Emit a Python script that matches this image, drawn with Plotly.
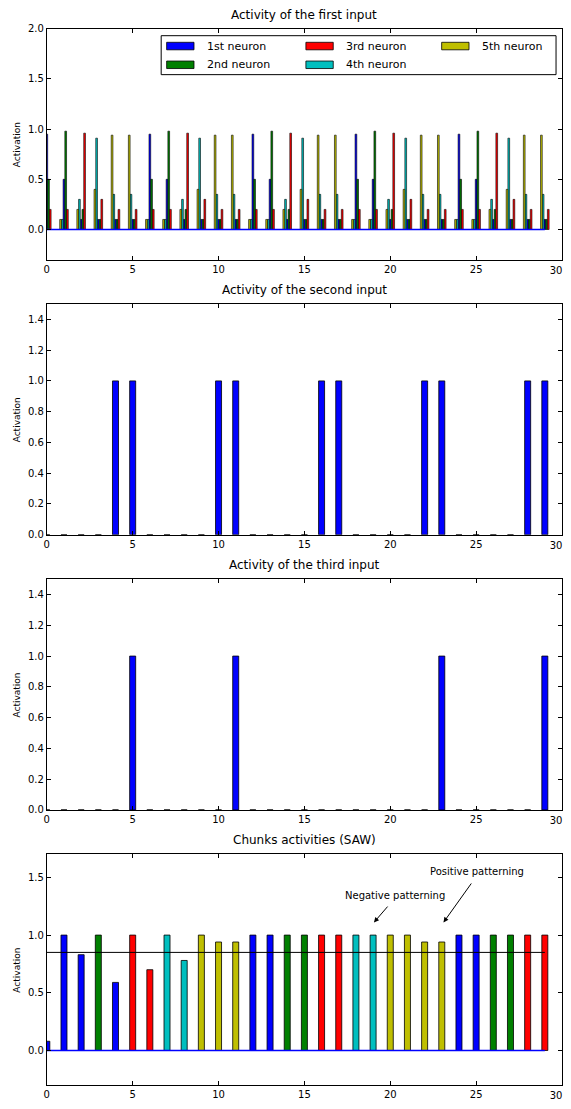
import plotly.graph_objects as go

W, H = 571, 1109
PAD = 8  # default page body margin around the figure
FW, FH = W - 2 * PAD, H - 2 * PAD

# ---------------- data ----------------
steps = list(range(30))

# Panel 1: activity of the five neurons for the first input
first_n1 = [0.95, 0.5, 0.1, 0.1, 0.1, 0.1, 0.95, 0.5, 0.1, 0.1, 0.1, 0.1,
            0.95, 0.5, 0.1, 0.1, 0.1, 0.1, 0.95, 0.5, 0.1, 0.1, 0.1, 0.1,
            0.95, 0.5, 0.1, 0.1, 0.1, 0.1]
first_n2 = [0.5, 0.98, 0.2, 0.1, 0.1, 0.1, 0.5, 0.98, 0.2, 0.1, 0.1, 0.1,
            0.5, 0.98, 0.2, 0.1, 0.1, 0.1, 0.5, 0.98, 0.2, 0.1, 0.1, 0.1,
            0.5, 0.98, 0.2, 0.1, 0.1, 0.1]
first_n3 = [0.2, 0.2, 0.96, 0.3, 0.2, 0.2, 0.2, 0.2, 0.96, 0.3, 0.2, 0.2,
            0.2, 0.2, 0.96, 0.3, 0.2, 0.2, 0.2, 0.2, 0.96, 0.3, 0.2, 0.2,
            0.2, 0.2, 0.96, 0.3, 0.2, 0.2]
first_n4 = [0.1, 0.1, 0.3, 0.91, 0.35, 0.35, 0.1, 0.1, 0.3, 0.91, 0.35, 0.35,
            0.1, 0.1, 0.3, 0.91, 0.35, 0.35, 0.1, 0.1, 0.3, 0.91, 0.35, 0.35,
            0.1, 0.1, 0.3, 0.91, 0.35, 0.35]
first_n5 = [0.1, 0.1, 0.2, 0.4, 0.94, 0.94, 0.1, 0.1, 0.2, 0.4, 0.94, 0.94,
            0.1, 0.1, 0.2, 0.4, 0.94, 0.94, 0.1, 0.1, 0.2, 0.4, 0.94, 0.94,
            0.1, 0.1, 0.2, 0.4, 0.94, 0.94]

# Panel 2 / 3: second and third input
second_input = [0, 0, 0, 0, 1, 1, 0, 0, 0, 0, 1, 1, 0, 0, 0, 0, 1, 1,
                0, 0, 0, 0, 1, 1, 0, 0, 0, 0, 1, 1]
third_input = [0, 0, 0, 0, 0, 1, 0, 0, 0, 0, 0, 1, 0, 0, 0, 0, 0, 0,
               0, 0, 0, 0, 0, 1, 0, 0, 0, 0, 0, 1]

# Panel 4: chunk activities (SAW) and winning chunk index
chunk_values = [0.08, 1.0, 0.83, 1.0, 0.59, 1.0, 0.70, 1.0, 0.78, 1.0,
                0.94, 0.94, 1.0, 1.0, 1.0, 1.0, 1.0, 1.0, 1.0, 1.0,
                1.0, 1.0, 0.94, 0.94, 1.0, 1.0, 1.0, 1.0, 1.0, 1.0]
chunk_ids = [1, 1, 1, 2, 1, 3, 3, 4, 4, 5,
             5, 5, 1, 1, 2, 2, 3, 3, 4, 4,
             5, 5, 5, 5, 1, 1, 2, 2, 3, 3]
threshold = 0.85
baseline = 0.0

x_ticks = [0, 5, 10, 15, 20, 25]
x_last_tick = 30

neuron_names = ["1st neuron", "2nd neuron", "3rd neuron", "4th neuron", "5th neuron"]
titles = ["Activity of the first input", "Activity of the second input",
          "Activity of the third input", "Chunks activities (SAW)"]

# ---------------- style ----------------
COLORS = {1: "#0000ff", 2: "#008000", 3: "#ff0000", 4: "#00bfbf", 5: "#bfbf00"}
FONT = "DejaVu Sans"

def pxx(p):
    return (p - PAD) / FW

def pxy(p):
    return 1 - (p - PAD) / FH

tops = [23, 302, 581, 860]
ph = 234
xdom = [pxx(44), pxx(562)]

fig = go.Figure()

# Panel 1 bars
first = [first_n1, first_n2, first_n3, first_n4, first_n5]
offsets = [-0.05, 0.05, 0.15, -0.15, -0.25]
for i in range(5):
    fig.add_trace(go.Bar(x=steps, y=first[i], width=0.1, offset=offsets[i],
                         marker=dict(color=COLORS[i + 1], line=dict(color="black", width=0.6)),
                         name=neuron_names[i], showlegend=False, xaxis="x", yaxis="y"))
fig.add_trace(go.Scatter(x=steps, y=[baseline] * len(steps), mode="lines",
                         line=dict(color="#0000ff", width=1.3), showlegend=False,
                         xaxis="x", yaxis="y"))

# Panel 2 and 3
for k, vals in [(2, second_input), (3, third_input)]:
    fig.add_trace(go.Bar(x=steps, y=vals, width=0.35, offset=-0.175,
                         marker=dict(color="#0000ff", line=dict(color="black", width=0.8)),
                         showlegend=False, xaxis=f"x{k}", yaxis=f"y{k}"))

# Panel 4
fig.add_trace(go.Bar(x=steps, y=chunk_values, width=0.35, offset=-0.175,
                     marker=dict(color=[COLORS[c] for c in chunk_ids],
                                 line=dict(color="black", width=0.8)),
                     showlegend=False, xaxis="x4", yaxis="y4"))
fig.add_trace(go.Scatter(x=steps, y=[baseline] * len(steps), mode="lines",
                         line=dict(color="#0000ff", width=1.3), showlegend=False,
                         xaxis="x4", yaxis="y4"))
fig.add_trace(go.Scatter(x=steps, y=[threshold] * len(steps), mode="lines",
                         line=dict(color="black", width=1), showlegend=False,
                         xaxis="x4", yaxis="y4"))

# empty traces so the overlay axes carrying the last x tick label are built
for k in range(4):
    ysfx = "" if k == 0 else str(k + 1)
    fig.add_trace(go.Scatter(x=[], y=[], showlegend=False, hoverinfo="skip",
                             xaxis=f"x{k + 5}", yaxis="y" + ysfx))

axis_common = dict(showline=True, linecolor="black", linewidth=1, mirror="ticks",
                   ticks="inside", ticklen=4, tickcolor="black", showgrid=False,
                   zeroline=False, tickfont=dict(family=FONT, size=10, color="black"))

yranges = [[-0.3, 2.0], [0, 1.5], [0, 1.5], [-0.3, 1.7]]
ydticks = [0.5, 0.2, 0.2, 0.5]
layout = dict(width=FW, height=FH, autosize=False, margin=dict(l=0, r=0, t=0, b=0),
              paper_bgcolor="white", plot_bgcolor="white", barmode="overlay",
              font=dict(family=FONT, color="black"))
for k in range(4):
    sfx = "" if k == 0 else str(k + 1)
    ydom = [pxy(tops[k] + ph), pxy(tops[k])]
    layout["xaxis" + sfx] = dict(axis_common, domain=xdom, range=[0, 30],
                                 tickvals=x_ticks + [x_last_tick],
                                 ticktext=[str(v) for v in x_ticks] + [""],
                                 anchor="y" + sfx)
    layout["yaxis" + sfx] = dict(axis_common, domain=ydom, range=yranges[k],
                                 dtick=ydticks[k], tick0=0, tickformat=".1f",
                                 anchor="x" + sfx)
    # overlay axis: only the "30" label, nudged inward so it is not cut at the page edge
    layout[f"xaxis{k + 5}"] = dict(overlaying="x" + sfx, anchor="y" + sfx, range=[0, 30],
                                   tickvals=[x_last_tick], ticktext=[str(x_last_tick)],
                                   ticks="", showline=False, showgrid=False,
                                   zeroline=False, side="bottom", ticklabelshift=-6,
                                   ticklabelstandoff=3, ticklabeloverflow="allow",
                                   tickfont=dict(family=FONT, size=10, color="black"))
fig.update_layout(**layout)

ann = []
shapes = []
for k in range(4):
    ann.append(dict(text=titles[k], xref="paper", yref="paper", x=pxx(303),
                    y=pxy(tops[k] - 5), xanchor="center", yanchor="bottom",
                    showarrow=False, font=dict(family=FONT, size=12, color="black")))
    ann.append(dict(text="Activation", xref="paper", yref="paper", x=pxx(14),
                    y=pxy(tops[k] + ph / 2), xanchor="center", yanchor="middle",
                    textangle=-90, showarrow=False,
                    font=dict(family=FONT, size=9, color="black")))

# Manual legend in panel 1
shapes.append(dict(type="rect", xref="paper", yref="paper", x0=pxx(159), x1=pxx(556),
                   y0=pxy(69.5), y1=pxy(30), line=dict(color="black", width=1),
                   fillcolor="white", layer="above"))
legend_pos = [(164.5, 40.5), (164.5, 59.5), (304.5, 40.5), (304.5, 59.5), (441, 40.5)]
for i, (lx, ly) in enumerate(legend_pos):
    shapes.append(dict(type="rect", xref="paper", yref="paper", x0=pxx(lx),
                       x1=pxx(lx + 27.5), y0=pxy(ly + 3.8), y1=pxy(ly - 3.8),
                       fillcolor=COLORS[i + 1], line=dict(color="black", width=0.8),
                       layer="above"))
    ann.append(dict(text=neuron_names[i], xref="paper", yref="paper", x=pxx(lx + 38.5),
                    y=pxy(ly), xanchor="left", yanchor="middle", showarrow=False,
                    font=dict(family=FONT, size=11, color="black")))

# Patterning annotations in panel 4
for txt, tx, ty, ax_, ay_, hx, hy in [
        ("Negative patterning", 20.27, 1.34, 19.92, 1.26, 19.05, 1.11),
        ("Positive patterning", 25.07, 1.55, 24.78, 1.46, 23.1, 1.11)]:
    ann.append(dict(text=txt, xref="x4", yref="y4", x=tx, y=ty, showarrow=False,
                    xanchor="center", yanchor="middle",
                    font=dict(family=FONT, size=10, color="black")))
    ann.append(dict(text="", xref="x4", yref="y4", x=hx, y=hy, axref="x4", ayref="y4",
                    ax=ax_, ay=ay_, showarrow=True, arrowhead=2, arrowsize=1,
                    arrowwidth=1, arrowcolor="black"))

fig.update_layout(annotations=ann, shapes=shapes)
fig.write_html("out.html", config={"displayModeBar": False})
